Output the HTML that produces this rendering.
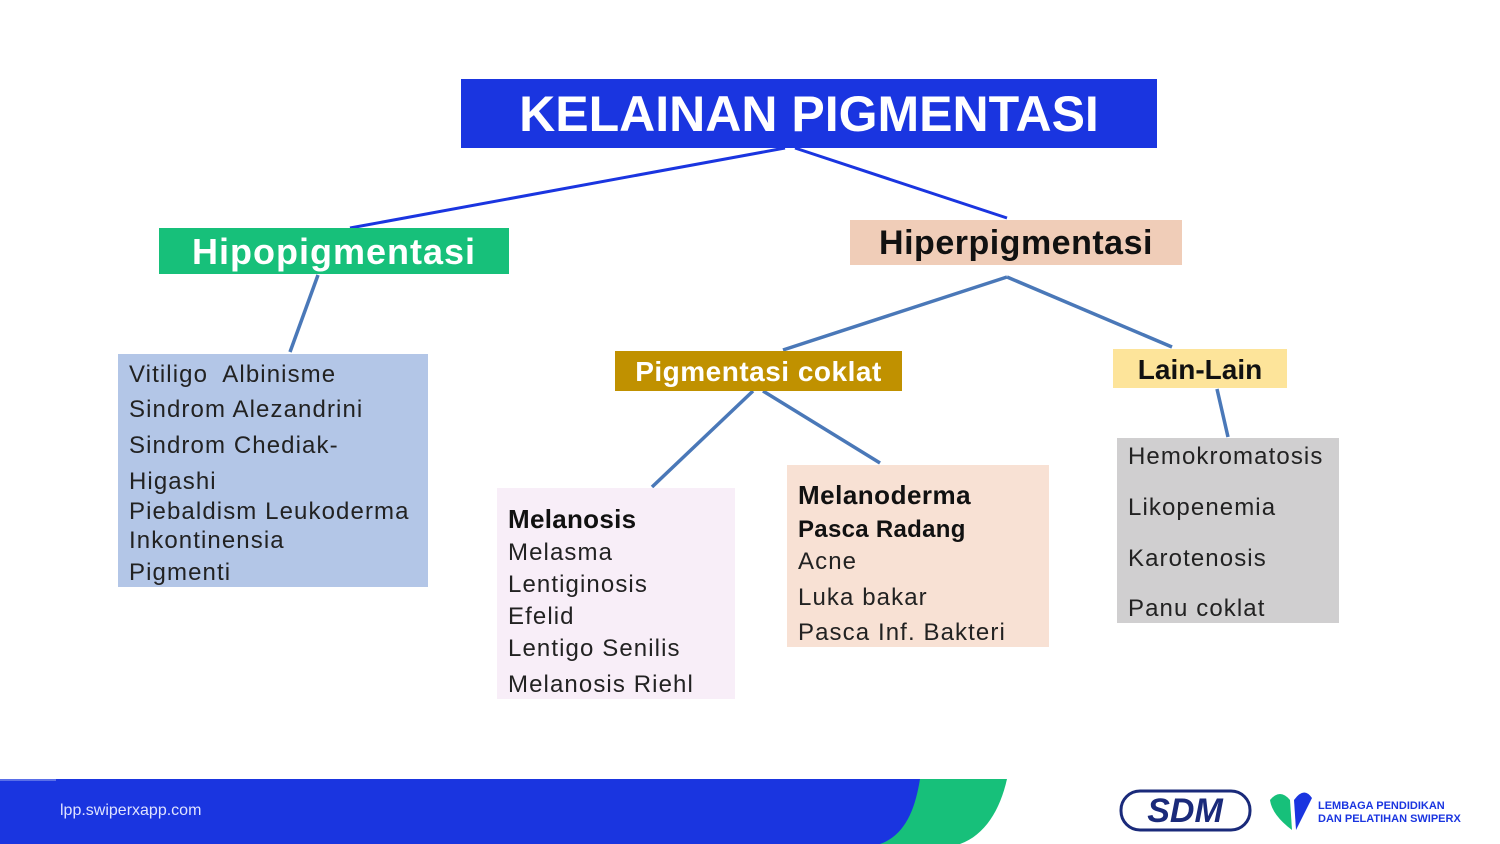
<!DOCTYPE html>
<html><head><style>
body{margin:0;width:1500px;height:844px;position:relative;overflow:hidden;background:#fff;font-family:"Liberation Sans",sans-serif;}
.b{position:absolute;box-sizing:border-box;}
.t{position:absolute;white-space:nowrap;color:#222;font-size:24px;letter-spacing:1.1px;margin-top:2px;}
</style></head><body>
<svg class="b" style="left:0;top:0" width="1500" height="844">
<line x1="785" y1="148" x2="350" y2="228" stroke="#1a35e0" stroke-width="3"/>
<line x1="795" y1="148" x2="1007" y2="218" stroke="#1a35e0" stroke-width="3"/>
<g stroke="#4a78b8" stroke-width="3.5">
<line x1="318" y1="275" x2="290" y2="352"/>
<line x1="1007" y1="277" x2="783" y2="350"/>
<line x1="1007" y1="277" x2="1172" y2="347"/>
<line x1="753" y1="391" x2="652" y2="487"/>
<line x1="763" y1="391" x2="880" y2="463"/>
<line x1="1217" y1="389" x2="1228" y2="437"/>
</g>
<path d="M0 779 H1007 C1000 810 985 835 960 844 H0Z" fill="#17c07a"/>
<path d="M0 779 H920 C915 810 905 835 880 844 H0Z" fill="#1a35e0"/>
<rect x="0" y="779" width="56" height="2" fill="#5a6fe8"/>
<rect x="1121" y="791" width="129" height="39" rx="19" fill="none" stroke="#1a2a7a" stroke-width="3"/>
<text x="1185" y="822" text-anchor="middle" font-family="Liberation Sans" font-weight="bold" font-style="italic" font-size="34" fill="#1a2a7a">SDM</text>
<path d="M1270 800 Q1280 788 1290 800 L1292 830 Q1272 815 1270 800Z" fill="#17c07a"/>
<path d="M1294 800 Q1304 786 1312 798 L1296 830Z" fill="#1a35e0"/>
<text x="1318" y="809" font-family="Liberation Sans" font-weight="bold" font-size="11" fill="#1a35e0">LEMBAGA PENDIDIKAN</text>
<text x="1318" y="822" font-family="Liberation Sans" font-weight="bold" font-size="11" fill="#1a35e0">DAN PELATIHAN SWIPERX</text>
</svg>
<div class="t" style="left:60px;top:800px;color:#dfe3ff;font-size:16px;letter-spacing:0">lpp.swiperxapp.com</div>

<div class="b" style="left:461px;top:79px;width:696px;height:69px;background:#1a35e0;color:#fff;font-weight:bold;font-size:50px;text-align:center;line-height:71px">KELAINAN PIGMENTASI</div>
<div class="b" style="left:159px;top:228px;width:350px;height:46px;background:#17c07a;color:#fff;font-weight:bold;font-size:36px;text-align:center;line-height:48px;letter-spacing:1px">Hipopigmentasi</div>
<div class="b" style="left:850px;top:220px;width:332px;height:45px;background:#f0cdb8;color:#111;font-weight:bold;font-size:34px;text-align:center;line-height:46px;letter-spacing:0.5px">Hiperpigmentasi</div>
<div class="b" style="left:615px;top:351px;width:287px;height:40px;background:#c09100;color:#fff;font-weight:bold;font-size:28px;text-align:center;line-height:42px;letter-spacing:0.5px">Pigmentasi coklat</div>
<div class="b" style="left:1113px;top:349px;width:174px;height:39px;background:#fde49a;color:#111;font-weight:bold;font-size:28px;text-align:center;line-height:41px">Lain-Lain</div>

<div class="b" style="left:118px;top:354px;width:310px;height:233px;background:#b3c6e7"></div>
<div class="t" style="left:129px;top:359px">Vitiligo&nbsp; Albinisme</div>
<div class="t" style="left:129px;top:394px">Sindrom Alezandrini</div>
<div class="t" style="left:129px;top:430px">Sindrom Chediak-</div>
<div class="t" style="left:129px;top:466px">Higashi</div>
<div class="t" style="left:129px;top:496px">Piebaldism Leukoderma</div>
<div class="t" style="left:129px;top:525px">Inkontinensia</div>
<div class="t" style="left:129px;top:557px">Pigmenti</div>

<div class="b" style="left:497px;top:488px;width:238px;height:211px;background:#f8eef8"></div>
<div class="t" style="left:508px;top:502px;font-weight:bold;font-size:26px;color:#111;letter-spacing:0.3px">Melanosis</div>
<div class="t" style="left:508px;top:537px">Melasma</div>
<div class="t" style="left:508px;top:569px">Lentiginosis</div>
<div class="t" style="left:508px;top:601px">Efelid</div>
<div class="t" style="left:508px;top:633px">Lentigo Senilis</div>
<div class="t" style="left:508px;top:669px">Melanosis Riehl</div>

<div class="b" style="left:787px;top:465px;width:262px;height:182px;background:#f8e1d4"></div>
<div class="t" style="left:798px;top:478px;font-weight:bold;font-size:26px;color:#111;letter-spacing:0.5px">Melanoderma</div>
<div class="t" style="left:798px;top:514px;font-weight:bold;color:#111;letter-spacing:0.3px">Pasca Radang</div>
<div class="t" style="left:798px;top:546px">Acne</div>
<div class="t" style="left:798px;top:582px">Luka bakar</div>
<div class="t" style="left:798px;top:617px">Pasca Inf. Bakteri</div>

<div class="b" style="left:1117px;top:438px;width:222px;height:185px;background:#d0cfd0"></div>
<div class="t" style="left:1128px;top:441px">Hemokromatosis</div>
<div class="t" style="left:1128px;top:492px">Likopenemia</div>
<div class="t" style="left:1128px;top:543px">Karotenosis</div>
<div class="t" style="left:1128px;top:593px">Panu coklat</div>
</body></html>
